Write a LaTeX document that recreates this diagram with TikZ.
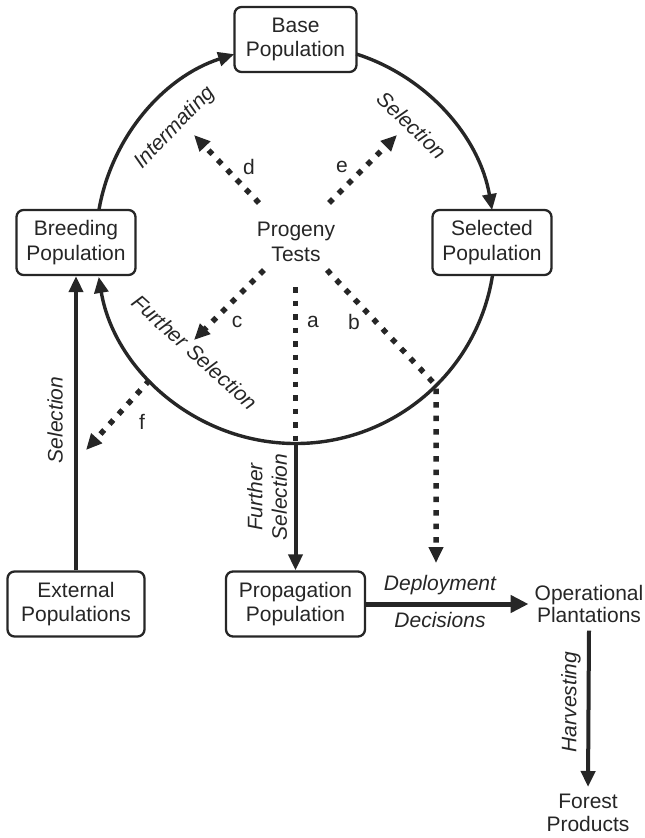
\documentclass[tikz,border=0pt]{standalone}
\usepackage{fontspec}
\setmainfont{Liberation Sans}
\usetikzlibrary{arrows.meta,calc}

\begin{document}
\begin{tikzpicture}[x=1pt,y=1pt,
  every node/.style={font=\fontsize{21}{24.5}\selectfont, text=black!85},
  box/.style={draw=black!85, line width=2.3pt, rounded corners=7pt, fill=white,
    align=center, minimum height=65pt, inner sep=0pt},
  plain/.style={align=center, inner sep=0pt},
  lbl/.style={font=\fontsize{21}{24.5}\selectfont\itshape, inner sep=0pt},
  letter/.style={inner sep=0pt},
  tip/.style={-{Triangle[length=16pt,width=14pt]}},
  ring/.style={draw=black!85, line width=3.4pt},
  solidarrow/.style={draw=black!85, line width=4pt, tip},
  dotline/.style={draw=black!85, line width=5.5pt, dash pattern=on 5.5pt off 8pt},
  dotarrow/.style={dotline, tip}]
\useasboundingbox (0,0) rectangle (645,-838);

% populations
\node[box, minimum width=122pt] (base) at (295.5,-39.5) {Base\\Population};
\node[box, minimum width=119pt] (brd)  at (76,-242.5)   {Breeding\\Population};
\node[box, minimum width=119pt] (sel)  at (492,-242.5)  {Selected\\Population};
\node[box, minimum width=137pt] (ext)  at (76,-604)     {External\\Populations};
\node[box, minimum width=139pt] (prop) at (295.5,-604)  {Propagation\\Population};
\node[plain] (prog) at (296,-242) {Progeny\\Tests};
\node[plain, font=\fontsize{21}{21.5}\selectfont, inner xsep=6pt, inner ysep=8pt] (op) at (589,-604) {Operational\\Plantations};
\node[plain, font=\fontsize{21}{23}\selectfont, inner ysep=7pt] (fp) at (588,-813) {Forest\\Products};

% breeding cycle
\coordinate (ctr) at (295.5,-244);
\draw[ring, tip] ($(ctr)+(170.2:199.5)$) arc[start angle=170.2, end angle=107.9, radius=199.5];
\draw[ring, tip] ($(ctr)+(72.3:199.5)$) arc[start angle=72.3, end angle=9.8, radius=199.5];
\draw[ring, tip] ($(ctr)+(-8.9:199.5)$) arc[start angle=-8.9, end angle=-170.5, radius=199.5];

% cycle labels
\node[lbl, rotate=46]  (intm) at (175,-128) {Intermating};
\node[lbl, rotate=-44] (selr) at (412,-125) {Selection};
\node[lbl, rotate=-42] (fsa)  at (195,-352) {Further Selection};

% progeny test pathways
\coordinate (d0) at (259,-203);  \coordinate (d1) at (194,-135);
\coordinate (e0) at (329,-203);  \coordinate (e1) at (397,-135);
\coordinate (c0) at (264,-270);  \coordinate (c1) at (194,-340);
\coordinate (a0) at (295.5,-287); \coordinate (a1) at ($(ctr)+(-90:199.5)$);
\coordinate (b0) at (327,-270);  \coordinate (b1) at ($(ctr)+(-45.2:199.5)$);
\coordinate (b2) at (436,-563);
\coordinate (f0) at ($(ctr)+(223:199.5)$); \coordinate (f1) at (86,-450);

\draw[dotarrow] (d0) -- (d1);
\draw[dotarrow] (e0) -- (e1);
\draw[dotarrow] (c0) -- (c1);
\draw[dotline]  (a0) -- (a1);
\draw[dotarrow] (b0) -- (b1) -- (b2);
\draw[dotarrow] (f0) -- (f1);

\node[letter] (ld) at (249,-167) {d};
\node[letter] (le) at (342,-167) {e};
\node[letter] (lc) at (237,-322) {c};
\node[letter] (la) at (313,-322) {a};
\node[letter] (lb) at (354,-322) {b};
\node[letter] (lf) at (142,-422) {f};

% flows out of the cycle
\draw[solidarrow] (a1) -- (prop.north);
\draw[solidarrow] (ext.north) -- (brd.south);
\draw[draw=black!85, line width=5pt, -{Triangle[length=18pt,width=17pt]}] (prop.east) -- (op.west);
\draw[solidarrow] (op.south) -- (fp.north);

\node[lbl, rotate=90] (sell) at (55,-420) {Selection};
\node[lbl, rotate=90, align=center] (fsb) at (267,-497) {Further\\Selection};
\node[lbl] (dep) at (440,-585) {Deployment};
\node[lbl] (dec) at (440,-620) {Decisions};
\node[lbl, rotate=90] (harv) at (571,-702) {Harvesting};
\end{tikzpicture}
\end{document}
